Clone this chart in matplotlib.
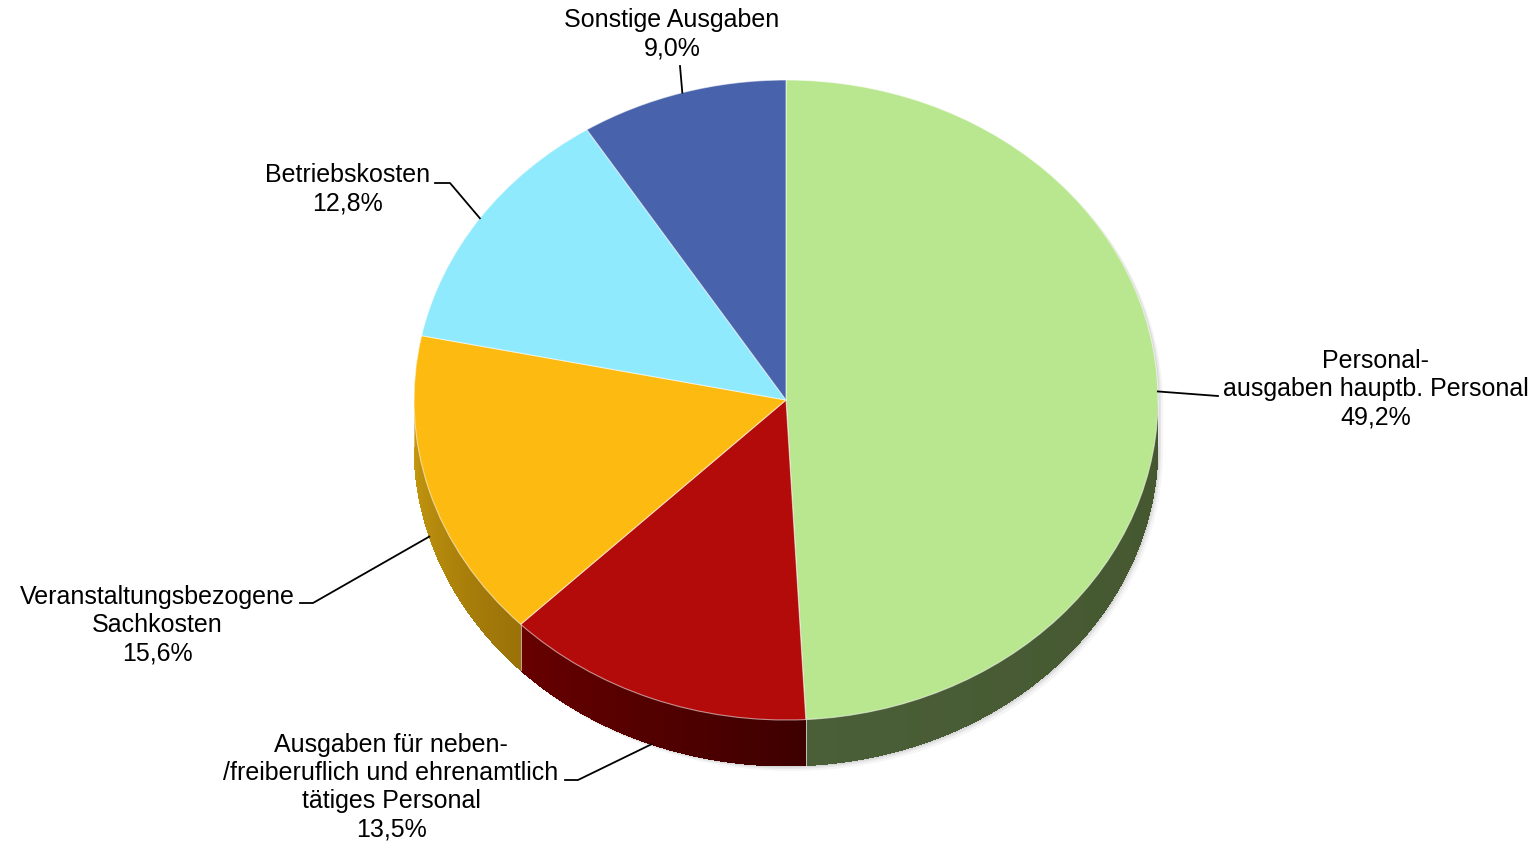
import matplotlib.pyplot as plt
import numpy as np
from matplotlib.transforms import Affine2D
from matplotlib.patches import Polygon
from matplotlib.colors import to_rgb

labels = ["Personal-\nausgaben hauptb. Personal",
          "Ausgaben für neben-\n/freiberuflich und ehrenamtlich\ntätiges Personal",
          "Veranstaltungsbezogene\nSachkosten",
          "Betriebskosten",
          "Sonstige Ausgaben"]
shares = [49.2, 13.5, 15.6, 12.8, 9.0]

top_colors = ["#B9E78F", "#B30A0A", "#FDBB12", "#8EEAFC", "#4863AC"]
# side shading, left end -> right end
side_colors = [("#4A5E37", "#44572F"), ("#680000", "#3E0000"),
               ("#CA9C10", "#9A7208"), ("#6AAFBD", "#6AAFBD"), ("#36497F", "#36497F")]

# label placement (pixels) and leader line elbows
label_pos = [(1376, 389), (391, 787), (157, 625), (348, 189), (672, 34)]
elbows = [[(1218, 396)], [(578, 780), (565, 780)], [(313, 603), (300, 603)],
          [(450, 183), (435, 183)], [(680, 66)]]

cx, cy, rx, ry, depth = 786, 400, 372, 320, 46

fig = plt.figure(figsize=(15.37, 8.48), dpi=100)
ax = fig.add_axes([0, 0, 1, 1])
wedges, _ = ax.pie(shares, colors=top_colors, startangle=90, counterclock=False,
                   wedgeprops=dict(edgecolor=(1, 1, 1, 0.55), linewidth=0.8))
ax.set_aspect('auto')
ax.set_xlim(0, 1537)
ax.set_ylim(848, 0)
ax.axis('off')

to_px = Affine2D().scale(rx, -ry).translate(cx, cy) + ax.transData
for w in wedges:
    w.set_transform(to_px)
    w.set_zorder(3)


def rim(t):
    t = np.radians(t)
    return cx + rx * np.cos(t), cy - ry * np.sin(t)


# soft shadow behind the whole disc
t = np.linspace(0, 360, 361)
x, y = rim(t)
y = np.where(np.sin(np.radians(t)) < 0, y + depth, y)
for off, a in [(5, 0.08), (3, 0.12), (1.5, 0.15)]:
    ax.add_patch(Polygon(np.column_stack([x + off, y + off]), closed=True,
                         facecolor="grey", edgecolor="none", alpha=a, zorder=1))

# side walls of the front slices
for w, (c0, c1) in zip(wedges, side_colors):
    for lo_lim, hi_lim in [(-180, 0), (180, 360)]:
        lo, hi = max(w.theta1, lo_lim), min(w.theta2, hi_lim)
        if hi <= lo:
            continue
        c0v, c1v = np.array(to_rgb(c0)), np.array(to_rgb(c1))
        # full band underneath, then gradient strips on top
        ts = np.linspace(lo, hi, 100)
        xs, ys = rim(ts)
        band = np.column_stack([np.r_[xs, xs[::-1]], np.r_[ys, ys[::-1] + depth]])
        ax.add_patch(Polygon(band, closed=True, facecolor=(c0v + c1v) / 2,
                             edgecolor="none", zorder=2))
        n = max(int(hi - lo), 1)
        edges = np.linspace(lo, hi, n + 1)
        for k in range(n):
            ts = np.linspace(edges[k], min(edges[k + 1] + 0.6, hi), 4)
            xs, ys = rim(ts)
            f = (k + 0.5) / n
            col = (1 - f) * c0v + f * c1v
            pts = np.column_stack([np.r_[xs, xs[::-1]], np.r_[ys, ys[::-1] + depth]])
            ax.add_patch(Polygon(pts, closed=True, facecolor=col, edgecolor="none",
                                 antialiased=False, zorder=2.1))
        for tb in (lo, hi):
            xb, yb = rim(tb)
            ax.plot([xb, xb], [yb, yb + depth], color=(1, 1, 1, 0.4), lw=0.7, zorder=2.5)

# labels and leader lines
for w, lab, v, (lx, ly), elb in zip(wedges, labels, shares, label_pos, elbows):
    mid = (w.theta1 + w.theta2) / 2
    ax_, ay_ = rim(mid)
    if np.sin(np.radians(mid)) < 0:
        ay_ += depth
    pts = [(ax_, ay_)] + elb
    ax.plot([p[0] for p in pts], [p[1] for p in pts], color="black", lw=1.3, zorder=4)
    pct = f"{v:.1f}%".replace(".", ",")
    ax.text(lx, ly, f"{lab}\n{pct}", ha="center", va="center", fontsize=18,
            family="Liberation Sans", linespacing=1.22, zorder=5)

fig.savefig("out.png", dpi=100)
